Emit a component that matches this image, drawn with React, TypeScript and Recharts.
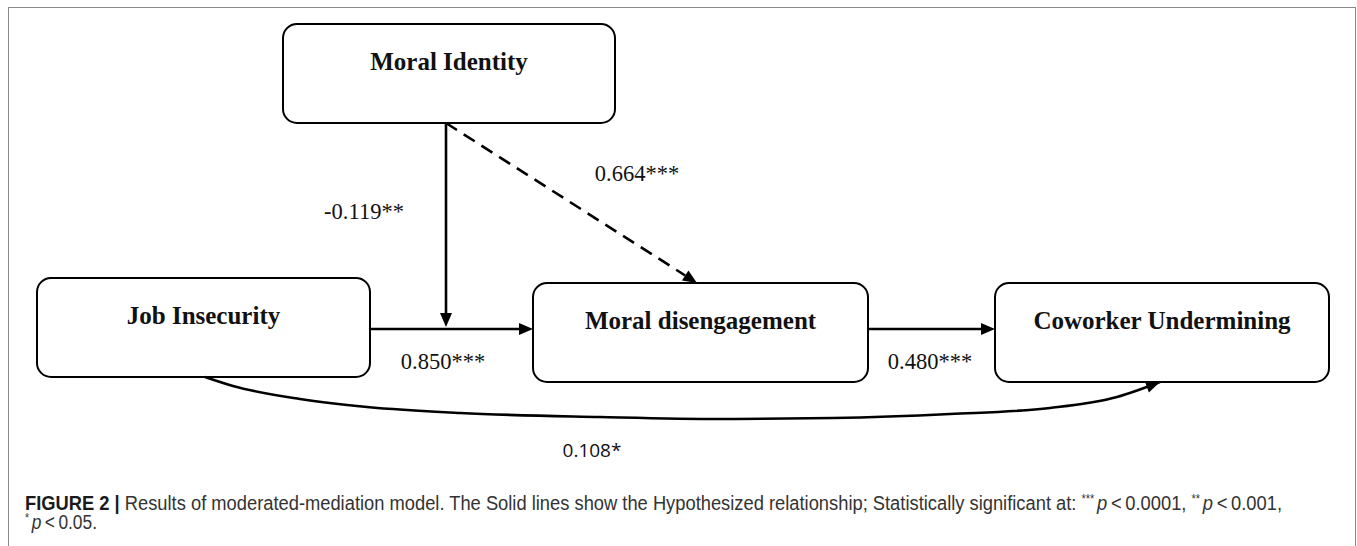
import React from 'react';
import { ComposedChart, XAxis, YAxis, Scatter, Line, ReferenceLine, ReferenceArea, Customized } from 'recharts';

const nodeNames = ['Moral Identity', 'Job Insecurity', 'Moral disengagement', 'Coworker Undermining'];
const nodeLeft = [283, 37, 533, 995];
const nodeRight = [615, 370, 868, 1329];
const nodeTop = [24, 278, 283, 283];
const nodeBottom = [123, 377, 382, 382];

// straight paths: moderator, a-path, b-path, dashed interaction
const edgeStart = [{ x: 446, y: 123 }, { x: 370, y: 329 }, { x: 868, y: 329 }, { x: 446, y: 123 }];
const edgeEnd = [{ x: 446, y: 327 }, { x: 533, y: 329 }, { x: 995, y: 329 }, { x: 697, y: 283 }];
const edgeDashed = [false, false, false, true];

// direct effect, curved under the boxes
const curveX = [205, 233, 300, 367, 460, 600, 720, 833, 950, 1050, 1117, 1160];
const curveY = [377, 386, 399, 407, 413, 417, 419, 418, 414, 408, 397, 382];

const coefTexts = ['-0.119**', '0.664***', '0.850***', '0.480***'];
const coefX = [364, 637, 443, 930];
const coefY = [211, 173, 361, 361];

const directText = '0.108*';
const directX = [592];
const directY = [450];

const nodes = nodeNames.map((name, i) => ({ name, x1: nodeLeft[i], x2: nodeRight[i], y1: nodeTop[i], y2: nodeBottom[i] }));
const curveData = curveX.map((x, i) => ({ x, y: curveY[i] }));
const coefData = coefTexts.map((text, i) => ({ text, x: coefX[i], y: coefY[i] }));
const directData = directX.map((x, i) => ({ text: directText, x, y: directY[i] }));

const NodeBox = (props: any) => {
    const { x, y, width, height, name } = props;
    return (
        <g>
            <rect x={x} y={y} width={width} height={height} rx={14} ry={14} fill="#fff" stroke="#000" strokeWidth={2} />
            <text x={x + width / 2} y={y + 46} textAnchor="middle" fontFamily="'Liberation Serif', serif" fontWeight="bold" fontSize={25} fill="#111">
                {name}
            </text>
        </g>
    );
};

const Arrow = (props: any) => {
    const { x1, y1, x2, y2, dashed, headOnly } = props;
    const a = Math.atan2(y2 - y1, x2 - x1);
    const len = 14;
    const half = 6;
    const bx = x2 - len * Math.cos(a);
    const by = y2 - len * Math.sin(a);
    const pts = [
        `${x2},${y2}`,
        `${bx + half * Math.sin(a)},${by - half * Math.cos(a)}`,
        `${bx - half * Math.sin(a)},${by + half * Math.cos(a)}`,
    ].join(' ');
    return (
        <g>
            {!headOnly && (
                <line x1={x1} y1={y1} x2={bx} y2={by} stroke="#000" strokeWidth={2.6} strokeDasharray={dashed ? '13 8' : undefined} />
            )}
            <polygon points={pts} fill="#000" />
        </g>
    );
};

const CoefLabel = (props: any) => (
    <text x={props.cx} y={props.cy} textAnchor="middle" dominantBaseline="central" fontFamily="'Liberation Serif', serif" fontSize={22.5} fill="#111">
        {props.payload.text}
    </text>
);

const DirectLabel = (props: any) => (
    <text x={props.cx} y={props.cy} textAnchor="middle" dominantBaseline="central" fontFamily="'Open Sans', sans-serif" fontSize={19} fill="#111">
        {props.payload.text}
    </text>
);

const Frame = () => (
    <g>
        <rect x={8.5} y={7.5} width={1347} height={560} fill="none" stroke="#8a8a8a" strokeWidth={1} />
        <text x={25} y={510} fontFamily="'Liberation Sans', Arial, sans-serif" fontSize={20} fill="#333" textLength={1257} lengthAdjust="spacingAndGlyphs">
            <tspan fontWeight="bold" fill="#1a1a1a">{'FIGURE 2  |  '}</tspan>
            <tspan>{'Results of moderated-mediation model. The Solid lines show the Hypothesized relationship; Statistically significant at: '}</tspan>
            <tspan fontSize={12} dy={-7}>***</tspan>
            <tspan fontStyle="italic" dy={7} dx={3}>p</tspan>
            <tspan>{'\u2009<\u20090.0001, '}</tspan>
            <tspan fontSize={12} dy={-7}>**</tspan>
            <tspan fontStyle="italic" dy={7} dx={3}>p</tspan>
            <tspan>{'\u2009<\u20090.001,'}</tspan>
        </text>
        <text x={25} y={529} fontFamily="'Liberation Sans', Arial, sans-serif" fontSize={20} fill="#333" textLength={72} lengthAdjust="spacingAndGlyphs">
            <tspan fontSize={12} dy={-7}>*</tspan>
            <tspan fontStyle="italic" dy={7} dx={3}>p</tspan>
            <tspan>{'\u2009<\u20090.05.'}</tspan>
        </text>
    </g>
);

export default function App() {
    return (
        <div style={{ position: 'absolute', left: 0, top: 0, width: 1357, height: 546, overflow: 'hidden', background: '#fff' }}>
            <ComposedChart width={1357} height={546} margin={{ top: 0, right: 0, bottom: 0, left: 0 }}>
                <XAxis type="number" dataKey="x" domain={[0, 1357]} hide allowDataOverflow />
                <YAxis type="number" dataKey="y" domain={[0, 546]} reversed hide allowDataOverflow />

                <Customized component={Frame} />

                <Line
                    data={curveData}
                    dataKey="y"
                    type="monotone"
                    stroke="#000"
                    strokeWidth={2.6}
                    dot={false}
                    activeDot={false}
                    isAnimationActive={false}
                />
                <ReferenceLine
                    segment={[{ x: 1135, y: 391 }, { x: curveX[curveX.length - 1], y: curveY[curveY.length - 1] }]}
                    ifOverflow="visible"
                    shape={(p: any) => <Arrow {...p} headOnly />}
                />

                {edgeStart.map((s, i) => (
                    <ReferenceLine
                        key={`edge-${i}`}
                        segment={[s, edgeEnd[i]]}
                        ifOverflow="visible"
                        shape={(p: any) => <Arrow {...p} dashed={edgeDashed[i]} />}
                    />
                ))}

                {nodes.map(n => (
                    <ReferenceArea
                        key={n.name}
                        x1={n.x1}
                        x2={n.x2}
                        y1={n.y1}
                        y2={n.y2}
                        ifOverflow="visible"
                        shape={(p: any) => <NodeBox {...p} name={n.name} />}
                    />
                ))}

                <Scatter data={coefData} shape={CoefLabel} isAnimationActive={false} />
                <Scatter data={directData} shape={DirectLabel} isAnimationActive={false} />
            </ComposedChart>
        </div>
    );
}
